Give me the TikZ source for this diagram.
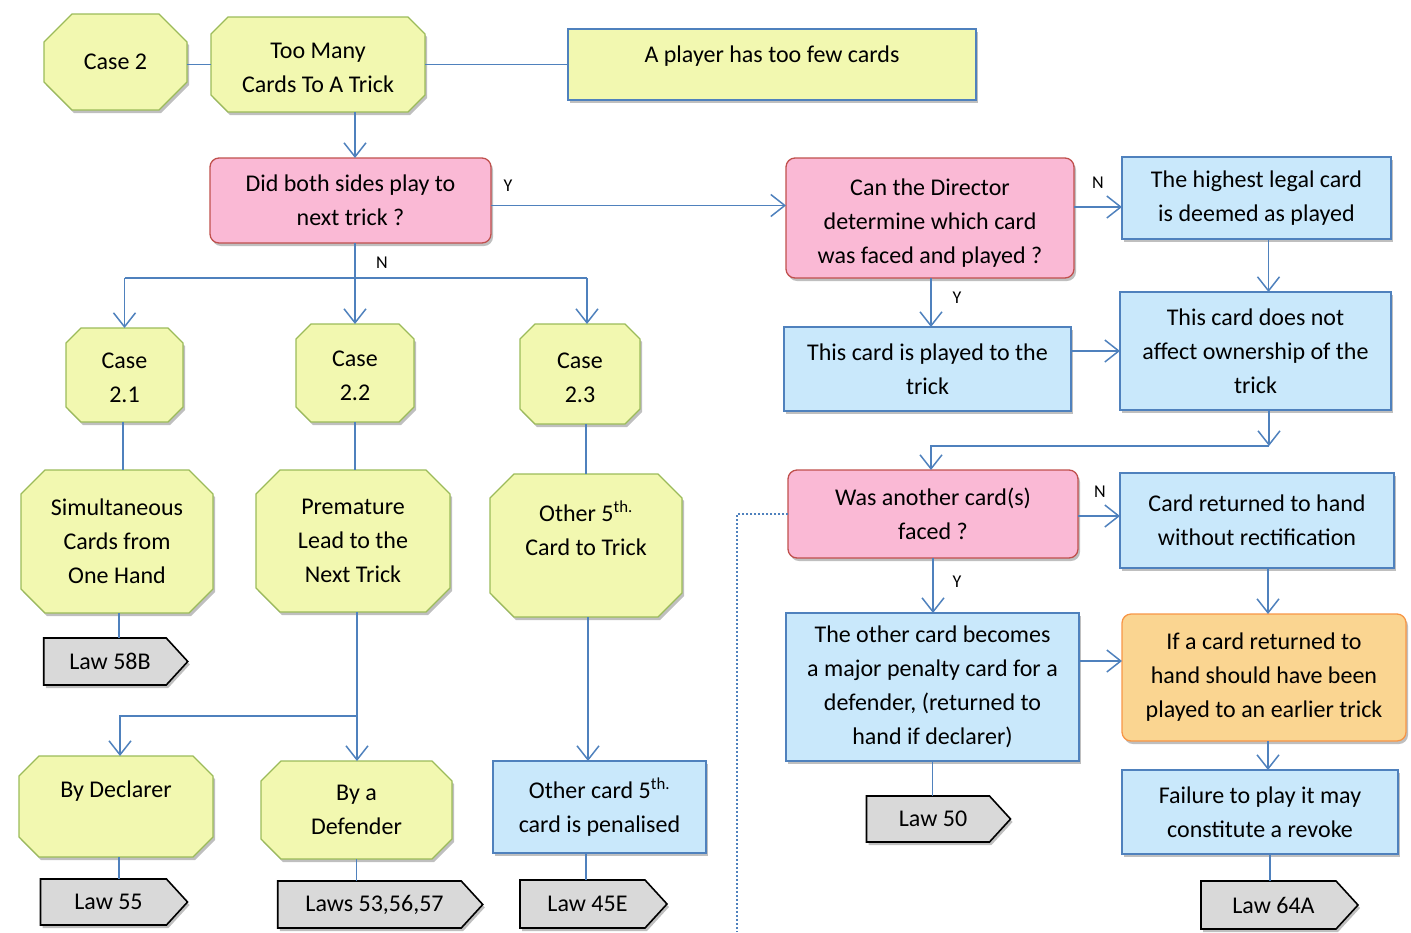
\documentclass[tikz,border=0pt]{standalone}
\usepackage{fontspec}
\setmainfont{Carlito}
\usetikzlibrary{shapes.symbols,arrows.meta,shadows,calc}
\pgfdeclarelayer{background}
\pgfsetlayers{background,main}
\definecolor{yel}{HTML}{F2F8B0}
\definecolor{grn}{HTML}{9BBB59}
\definecolor{blu}{HTML}{4F81BD}
\definecolor{lblue}{HTML}{C9E8FB}
\definecolor{pnk}{HTML}{FAB9D5}
\definecolor{redb}{HTML}{C0504D}
\definecolor{orf}{HTML}{FAD591}
\definecolor{orb}{HTML}{F79646}
\definecolor{gry}{HTML}{D9D9D9}
\newcommand\sh[2]{\raisebox{#1}[0pt][0pt]{\begin{tabular}{@{}c@{}}#2\end{tabular}}}
\tikzset{
  shad/.style={drop shadow={shadow xshift=2pt,shadow yshift=-3pt,opacity=0.25,fill=black}},
  base/.style={font=\fontsize{24}{34}\selectfont, align=center, inner sep=0pt, outer sep=0pt, line width=1.3pt},
  octa/.style={base, rectangle},
  octdraw/.style={draw=grn, fill=yel, line width=1.3pt, shad},
  bluebox/.style={base, shad, rectangle, draw=blu, fill=lblue},
  pinkbox/.style={base, shad, rectangle, rounded corners=9pt, draw=redb, fill=pnk},
  orbox/.style={base, shad, rectangle, rounded corners=9pt, draw=orb, fill=orf},
  tag/.style={base, shad, signal, signal to=east, signal pointer angle=95, draw=black, fill=gry, line width=1.6pt},
  conn/.style={draw=blu, line width=1.5pt},
  arr/.style={conn, -{Straight Barb[length=14pt,width=22pt]}},
  lbl/.style={font=\fontsize{18}{20}\selectfont, inner sep=0pt},
  sz/.style n args={2}{minimum width=#1pt, minimum height=#2pt}
}
\newcommand\octo[2]{%
  \begin{pgfonlayer}{background}
  \path[octdraw] ($(#1.north west)+(#2,0)$) -- ($(#1.north east)+(-#2,0)$)
    -- ($(#1.north east)+(0,#2)$) -- ($(#1.south east)+(0,-#2)$)
    -- ($(#1.south east)+(-#2,0)$) -- ($(#1.south west)+(#2,0)$)
    -- ($(#1.south west)+(0,-#2)$) -- ($(#1.north west)+(0,#2)$) -- cycle;
  \end{pgfonlayer}}
\begin{document}
\begin{tikzpicture}[x=1pt,y=-1pt]
\useasboundingbox (0,0) rectangle (1411,932);
% top row
\node[octa, sz={143}{96}] (case2) at (115.5,62) {Case 2};
\node[octa, sz={214}{95}] (toomany) at (318,64.5) {\sh{-10.5pt}{Too Many\\Cards To A Trick}};
\node[base, shad, rectangle, draw=blu, fill=yel, sz={408}{71}] (player) at (772,64.5) {\sh{2.5pt}{A player has too few cards}};
% question 1
\node[pinkbox, sz={281}{85}] (didboth) at (350.5,200.5) {Did both sides play to\\next trick ?};
% cases
\node[octa, sz={117}{94}] (c21) at (124.5,375) {\sh{-10pt}{Case\\2.1}};
\node[octa, sz={118}{98}] (c22) at (355,373) {\sh{-10pt}{Case\\2.2}};
\node[octa, sz={120}{100}] (c23) at (580,374) {\sh{-10.5pt}{Case\\2.3}};
\node[octa, sz={192}{143}] (simul) at (117,541.5) {Simultaneous\\Cards from\\One Hand};
\node[octa, sz={194}{142}] (premature) at (353,541) {Premature\\Lead to the\\Next Trick};
\node[octa, sz={192}{143}] (other5) at (586,545.5) {Other 5\textsuperscript{th.}\\Card to Trick\\ };
\node[octa, sz={194}{101}] (bydecl) at (116,806.5) {By Declarer\\ };
\node[octa, sz={191}{98}] (bydef) at (356.5,810) {By a\\Defender};
\octo{case2}{28}
\octo{toomany}{17}
\octo{c21}{15}
\octo{c22}{15}
\octo{c23}{15}
\octo{simul}{24}
\octo{premature}{24}
\octo{other5}{24}
\octo{bydecl}{20}
\octo{bydef}{20}
\node[bluebox, sz={213}{92}] (penal) at (599.5,807) {Other card 5\textsuperscript{th.}\\card is penalised};
% tags
\node[tag, sz={144}{47}] (law58b) at (105,661.5) {\hspace{10pt}Law 58B};
\node[tag, sz={147}{46}] (law55) at (103.5,902) {\hspace{10pt}Law 55};
\node[tag, sz={205}{47}] (law5357) at (369.5,904.5) {\hspace{10pt}Laws 53,56,57};
\node[tag, sz={147}{48}] (law45e) at (582.5,904) {\hspace{10pt}Law 45E};
\node[tag, sz={144}{46}] (law50) at (928,819) {\hspace{10pt}Law 50};
\node[tag, sz={157}{48}] (law64a) at (1268.5,905) {\hspace{10pt}Law 64A};
% right side
\node[pinkbox, sz={288}{120}] (director) at (930,218) {\sh{-11pt}{Can the Director\\determine which card\\was faced and played ?}};
\node[bluebox, sz={269}{82}] (highest) at (1256.5,198) {The highest legal card\\is deemed as played};
\node[bluebox, sz={287}{84}] (played) at (927.5,369) {This card is played to the\\trick};
\node[bluebox, sz={271}{118}] (doesnot) at (1255.5,351) {This card does not\\affect ownership of the\\trick};
\node[pinkbox, sz={290}{88}] (wasanother) at (933,514) {Was another card(s)\\faced ?};
\node[bluebox, sz={274}{95}] (returned) at (1257,520.5) {Card returned to hand\\without rectification};
\node[bluebox, sz={293}{148}] (othercard) at (932.5,687) {The other card becomes\\a major penalty card for a\\defender, (returned to\\hand if declarer)};
\node[orbox, sz={284}{127}] (ifcard) at (1264,677.5) {If a card returned to\\hand should have been\\played to an earlier trick};
\node[bluebox, sz={276}{84}] (failure) at (1260,812) {Failure to play it may\\constitute a revoke};
% coordinates
\coordinate (jN) at (355,278);
\coordinate (jP) at (357,716);
\coordinate (jD) at (1269,446);
\coordinate (dotend) at (737,932);
% connectors top
\draw[conn] (case2.east |- toomany.east) -- (toomany.west);
\draw[conn] (toomany.east) -- (player.west);
\draw[arr] (toomany.south -| c22.north) -- (didboth.north -| c22.north);
\draw[arr] ([yshift=-5pt]didboth.east) -- ([yshift=-5pt]didboth.east -| director.west);
\node[lbl] (ly1) at (508,186) {Y};
% N branch
\draw[arr] (didboth.south -| c22.north) -- (c22.north);
\draw[conn] (jN -| c21.north) -- ([xshift=7pt]jN -| c23.north);
\draw[arr] (jN -| c21.north) -- (c21.north);
\draw[arr] ([xshift=7pt]jN -| c23.north) -- ([xshift=7pt]c23.north);
\node[lbl] (ln1) at (382,263) {N};
\draw[conn] (c21.south -| 123,0) -- (simul.north -| 123,0);
\draw[conn] (c22.south) -- (c22.south |- premature.north);
\draw[conn] (other5.north |- c23.south) -- (other5.north);
\draw[conn] (simul.south -| 119,0) -- (law58b.north -| 119,0);
\draw[arr] (premature.south -| jP) -- (bydef.north -| jP);
\draw[arr] (jP) -| ([xshift=4pt]bydecl.north);
\draw[conn] (bydecl.south -| 119,0) -- (law55.north -| 119,0);
\draw[conn] (bydef.south) -- (bydef.south |- law5357.north);
\draw[arr] (other5.south -| 588,0) -- (penal.north -| 588,0);
\draw[conn] (penal.south -| 586,0) -- (law45e.north -| 586,0);
% right side connectors
\draw[arr] ([yshift=11pt]director.east) -- ([yshift=11pt]director.east -| highest.west);
\node[lbl] (ln2) at (1098,183) {N};
\draw[arr] (director.south -| 931,0) -- (played.north -| 931,0);
\node[lbl] (ly2) at (957,298) {Y};
\draw[arr] ([xshift=12pt]highest.south) -- ([xshift=12pt]highest.south |- doesnot.north);
\draw[arr] (played.east |- doesnot.west) -- (doesnot.west);
\draw[arr] (doesnot.south -| jD) -- (jD);
\draw[arr] (jD) -- (jD -| 931,0) -- (wasanother.north -| 931,0);
\draw[arr] ([yshift=-2pt]wasanother.east) -- ([yshift=-2pt]wasanother.east -| returned.west);
\node[lbl] (ln3) at (1100,492) {N};
\draw[arr] (wasanother.south) -- (wasanother.south |- othercard.north);
\node[lbl] (ly3) at (957,582) {Y};
\draw[arr] ([xshift=11pt]returned.south) -- ([xshift=11pt]returned.south |- ifcard.north);
\draw[arr] ([yshift=26pt]othercard.east) -- ([yshift=26pt]othercard.east -| ifcard.west);
\draw[arr] ([xshift=4pt]ifcard.south) -- ([xshift=4pt]ifcard.south |- failure.north);
\draw[conn] (othercard.south) -- (othercard.south |- law50.north);
\draw[conn] ([xshift=10pt]failure.south) -- ([xshift=10pt]failure.south |- law64a.north);
\draw[conn, dash pattern=on 2pt off 2pt] (wasanother.west) -| (dotend);
\end{tikzpicture}
\end{document}
